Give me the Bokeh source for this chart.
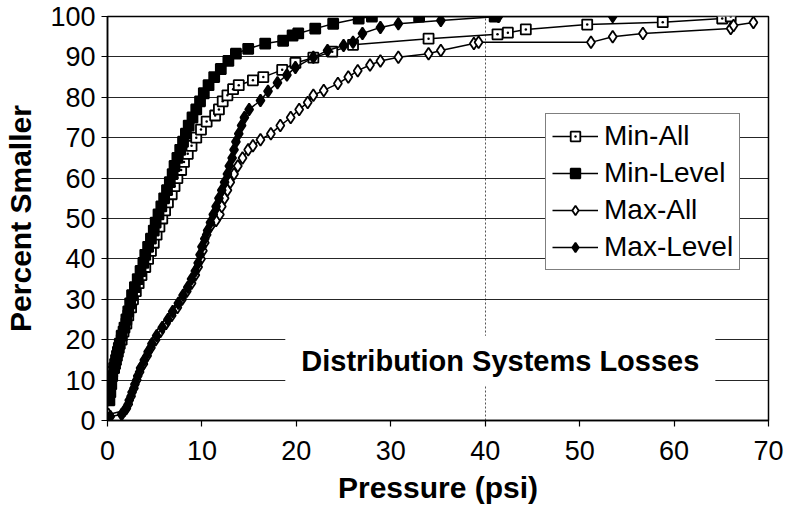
from bokeh.plotting import figure
from bokeh.models import Range1d, FixedTicker, Label, Legend, LegendItem
from bokeh.embed import file_html
from bokeh.resources import INLINE

# ---------------- data ----------------
x_ticks = [0, 10, 20, 30, 40, 50, 60, 70]
y_ticks = [0, 10, 20, 30, 40, 50, 60, 70, 80, 90, 100]
x_grid_ticks = [40]

series_names = ["Min-All", "Min-Level", "Max-All", "Max-Level"]

min_all_x = [0.1, 0.3, 0.5, 0.8, 1.0, 1.2, 1.5, 1.7, 2.0, 2.2, 2.5, 2.7, 3.0, 3.3, 3.6,
             4.0, 4.3, 4.6, 4.9, 5.2, 5.5, 5.8, 6.1, 6.4, 6.8, 7.1, 7.4, 7.8, 8.1, 8.5,
             8.9, 9.4, 9.9, 10.5, 11.4, 11.8, 12.2, 12.7, 13.3, 13.9, 15.4, 16.5, 18.5,
             19.9, 21.8, 23.8, 26.0, 34.0, 41.3, 42.4, 44.3, 50.8, 58.8, 65.1, 66.0]
min_all_y = [8, 10, 12, 14, 16, 18, 20, 22, 24, 26, 28, 30, 32, 34, 36,
             38, 40, 42, 44, 46, 48, 50, 52, 54, 56, 58, 60, 62, 64, 66,
             68, 70, 72, 74, 75.5, 77, 79, 80.5, 82, 83, 84.2, 85, 86.8,
             88.5, 89.8, 91.3, 93, 94.5, 95.6, 96, 96.8, 98, 98.6, 99.5, 100]

min_level_x = [0.2, 0.3, 0.4, 0.5, 0.7, 0.9, 1.1, 1.3, 1.5, 1.8, 2.0, 2.2, 2.4, 2.6, 2.9,
               3.2, 3.5, 3.8, 4.0, 4.3, 4.6, 4.9, 5.1, 5.4, 5.7, 6.0, 6.3, 6.6, 6.9, 7.1,
               7.4, 7.7, 8.0, 8.3, 8.6, 9.0, 9.4, 9.8, 10.2, 10.7, 11.3, 12.0, 12.8, 13.6,
               14.9, 16.7, 18.6, 19.6, 20.2, 22.0, 23.9, 26.6, 28.0, 33.0, 41.0]
min_level_y = [5, 7, 9, 11, 13, 15, 17, 19, 21, 23, 25, 27, 29, 31, 33,
               35, 37, 39, 41, 43, 45, 47, 49, 51, 53, 55, 57, 59, 61, 63,
               65, 67, 69, 71, 73, 75, 77, 79, 81, 83, 85, 87, 89, 90.8,
               92, 93.3, 94, 95.3, 95.8, 97, 98.2, 99.5, 100, 100, 100]

max_all_x = [0.1, 1.8, 2.2, 2.5, 2.8, 3.1, 3.4, 3.8, 4.2, 4.6, 5.1, 5.6, 6.2, 6.8, 7.4,
             7.9, 8.4, 8.9, 9.3, 9.6, 9.9, 10.1, 10.3, 10.5, 10.9, 11.5, 11.9, 12.1, 12.4,
             12.7, 13.0, 13.4, 13.8, 14.3, 14.9, 15.4, 16.2, 17.3, 18.3, 19.4, 20.3, 21.2,
             21.8, 22.9, 24.4, 25.5, 26.5, 27.8, 28.9, 30.8, 34.0, 35.3, 38.8, 39.3, 51.2,
             53.5, 56.7, 66.0, 66.3, 68.4]
max_all_y = [1.5, 2.5, 4, 6, 8, 10, 12, 14, 16, 18, 20, 22, 24, 26, 28,
             30, 32, 34, 36, 38, 40, 42, 44, 46, 48, 49.5, 51, 53, 55,
             57, 59, 61, 63, 65, 67, 68, 69.5, 71, 73, 75, 77, 78.7,
             80.5, 81.7, 83.4, 85, 86.6, 88, 89, 89.9, 90.8, 91.6, 93.3, 93.6, 93.6,
             95, 95.8, 97, 97.8, 98.5]

max_level_x = [0.3, 1.5, 2.0, 2.3, 2.6, 2.9, 3.2, 3.5, 3.9, 4.3, 4.7, 5.2, 5.8, 6.4, 6.9,
               7.5, 8.0, 8.5, 8.9, 9.3, 9.6, 9.8, 10.0, 10.3, 10.6, 10.9, 11.2, 11.5, 11.8,
               12.1, 12.4, 12.7, 12.9, 13.2, 13.4, 13.6, 13.9, 14.2, 14.5, 15.0, 16.2, 17.0,
               18.0, 19.0, 19.9, 21.8, 23.3, 25.0, 26.0, 27.0, 28.9, 30.8, 35.3, 41.4, 53.5]
max_level_y = [1, 1.5, 3, 5, 7, 9, 11, 13, 15, 17, 19, 21, 23, 25, 27,
               29, 31, 33, 35, 37, 39, 41, 43, 45, 47, 49, 51, 53, 55,
               57, 59, 61, 63, 65, 67, 69, 71, 73, 75, 77, 79.2, 81.5,
               83.6, 85.5, 87.4, 89.9, 91.6, 92.8, 93.6, 95.8, 97.3, 98.2, 99, 100, 100]

FONT = "Liberation Sans"

p = figure(frame_width=661, frame_height=404, output_backend="svg", toolbar_location=None,
           x_range=Range1d(0, 70), y_range=Range1d(0, 100),
           min_border_left=107, min_border_right=28, min_border_top=16, min_border_bottom=92,
           x_axis_label="Pressure (psi)", y_axis_label="Percent Smaller")

p.background_fill_color = "white"
p.border_fill_color = "white"
p.outline_line_color = "black"
p.outline_line_width = 1.5

p.xaxis.ticker = FixedTicker(ticks=x_ticks)
p.yaxis.ticker = FixedTicker(ticks=y_ticks)
p.axis.major_label_text_font = FONT
p.axis.major_label_text_font_size = "27px"
p.axis.major_label_text_color = "black"
p.axis.axis_label_text_font = FONT
p.axis.axis_label_text_font_size = "30px"
p.axis.axis_label_text_font_style = "bold"
p.axis.axis_label_text_color = "black"
p.axis.axis_line_color = "black"
p.axis.axis_line_width = 1.5
p.axis.major_tick_line_color = "black"
p.axis.major_tick_line_width = 1.2
p.axis.major_tick_out = 6
p.axis.major_tick_in = 0
p.axis.minor_tick_line_color = None
p.xaxis.major_label_standoff = 14
p.yaxis.major_label_standoff = 6
p.xaxis.axis_label_standoff = 8
p.yaxis.axis_label_standoff = 10

p.ygrid.ticker = FixedTicker(ticks=y_ticks)
p.ygrid.grid_line_color = "black"
p.ygrid.grid_line_width = 1.2
p.ygrid.grid_line_alpha = 0.85
p.xgrid.ticker = FixedTicker(ticks=x_grid_ticks)
p.xgrid.grid_line_color = "#555555"
p.xgrid.grid_line_width = 1
p.xgrid.grid_line_dash = "2 2"

styles = [
    dict(marker="square_dot", fill_color="white", size=10),
    dict(marker="square", fill_color="black", size=10),
    dict(marker="diamond", fill_color="white", size=12),
    dict(marker="diamond", fill_color="black", size=12),
]
data = [(min_all_x, min_all_y), (min_level_x, min_level_y),
        (max_all_x, max_all_y), (max_level_x, max_level_y)]

items = []
for name, (xs, ys), st in zip(series_names, data, styles):
    lr = p.line(xs, ys, line_color="black", line_width=1.5)
    sr = p.scatter(xs, ys, marker=st["marker"], size=st["size"], fill_color=st["fill_color"],
                   line_color="black", line_width=1.8)
    items.append(LegendItem(label=name, renderers=[lr, sr]))

legend = Legend(items=items, location=(438, 150))
legend.label_text_font = FONT
legend.label_text_font_size = "28px"
legend.label_text_color = "black"
legend.glyph_width = 46
legend.glyph_height = 24
legend.label_standoff = 6
legend.spacing = 5
legend.padding = 6
legend.margin = 0
legend.border_line_color = "black"
legend.border_line_width = 1.5
legend.background_fill_color = "white"
legend.background_fill_alpha = 1
p.add_layout(legend)

title_label = Label(x=41.6, y=14.8, text="Distribution Systems Losses",
                    text_align="center", text_baseline="middle",
                    text_font=FONT, text_font_size="29px", text_font_style="bold",
                    text_color="black", background_fill_color="white",
                    background_fill_alpha=1, padding=(16, 9))
p.add_layout(title_label)

open("out.html", "w").write(file_html(p, INLINE))
